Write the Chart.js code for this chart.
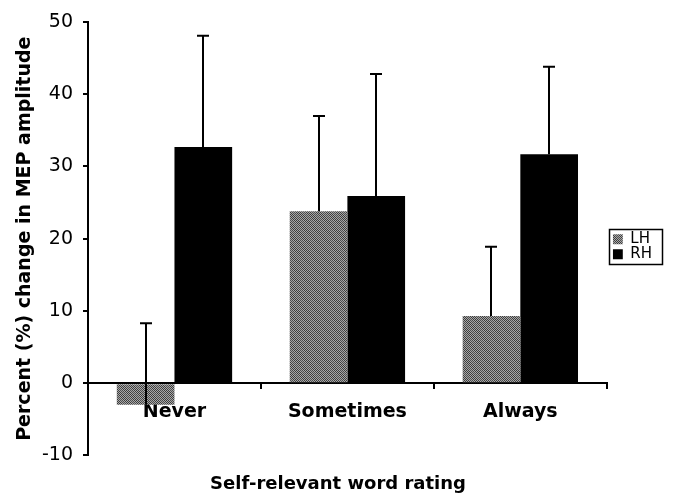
<!DOCTYPE html>
<html>
<head>
<meta charset="utf-8">
<script src="https://cdn.jsdelivr.net/npm/chart.js@4/dist/chart.umd.min.js"></script>
<style>
  html, body { margin: 0; padding: 0; background: #ffffff; }
  #wrap { width: 681px; height: 496px; position: relative; }
</style>
</head>
<body>
<div id="wrap"><canvas id="chart" width="681" height="496"></canvas></div>
<script>
// Word-rating categories and MEP amplitude changes (%) per hemisphere
const categories = ['Never', 'Sometimes', 'Always'];
const lhValues = [-3.0, 23.8, 9.3];
const rhValues = [32.7, 25.9, 31.7];
// Upward error bar lengths (same units as the values)
const lhErrors = [11.3, 13.2, 9.6];
const rhErrors = [15.4, 16.9, 12.1];
const yTicks = [-10, 0, 10, 20, 30, 40, 50];

const FONT = "'DejaVu Sans', Verdana, sans-serif";

// Fine gray checker fill with faint diagonal banding for the LH bars
function makeHatch() {
  const n = 10;
  const c = document.createElement('canvas');
  c.width = n; c.height = n;
  const g = c.getContext('2d');
  for (let y = 0; y < n; y++) {
    for (let x = 0; x < n; x++) {
      const band = ((x - y + n) % n) < 3;
      const dark = (x + y) % 2 === 0;
      let v;
      if (band) v = dark ? 0x50 : 0x9c;
      else v = dark ? 0x3a : 0xaa;
      g.fillStyle = 'rgb(' + v + ',' + v + ',' + v + ')';
      g.fillRect(x, y, 1, 1);
    }
  }
  return g.createPattern(c, 'repeat');
}
const hatch = makeHatch();

const errorBars = {
  id: 'errorBars',
  afterDatasetsDraw(chart) {
    const ctx = chart.ctx;
    const yScale = chart.scales.y;
    const errs = [lhErrors, rhErrors];
    ctx.save();
    ctx.strokeStyle = '#000';
    ctx.lineWidth = 2;
    chart.data.datasets.forEach((ds, i) => {
      const meta = chart.getDatasetMeta(i);
      meta.data.forEach((bar, j) => {
        const v = ds.data[j];
        const x = Math.round(bar.x);
        const y0 = yScale.getPixelForValue(v);
        const y1 = yScale.getPixelForValue(v + errs[i][j]);
        ctx.beginPath();
        ctx.moveTo(x, y0);
        ctx.lineTo(x, y1);
        ctx.moveTo(x - 6, y1);
        ctx.lineTo(x + 6, y1);
        ctx.stroke();
      });
    });
    ctx.restore();
  }
};

const legendFrame = {
  id: 'legendFrame',
  afterDraw(chart) {
    const boxes = chart.legend && chart.legend.legendHitBoxes;
    if (!boxes || !boxes.length) return;
    let l = Infinity, t = Infinity, r = -Infinity, b = -Infinity;
    boxes.forEach(h => {
      l = Math.min(l, h.left); t = Math.min(t, h.top);
      r = Math.max(r, h.left + h.width); b = Math.max(b, h.top + h.height);
    });
    const ctx = chart.ctx;
    ctx.save();
    ctx.strokeStyle = '#000';
    ctx.lineWidth = 1.5;
    const x0 = Math.round(l - 4), y0 = Math.round(t - 3);
    const x1 = Math.round(r + 10), y1 = Math.round(b + 2);
    ctx.strokeRect(x0 + 0.5, y0 + 0.5, x1 - x0, y1 - y0);
    ctx.restore();
  }
};

new Chart(document.getElementById('chart'), {
  type: 'bar',
  data: {
    labels: categories,
    datasets: [
      { label: 'LH', data: lhValues, backgroundColor: hatch, borderWidth: 0 },
      { label: 'RH', data: rhValues, backgroundColor: '#000000', borderWidth: 0 }
    ]
  },
  options: {
    responsive: false,
    animation: false,
    devicePixelRatio: 1,
    layout: { padding: { top: 22, left: 14, right: 19, bottom: 0 } },
    datasets: { bar: { categoryPercentage: 0.667, barPercentage: 1.0 } },
    scales: {
      x: {
        position: { y: 0 },
        grid: { display: true, drawOnChartArea: false, drawTicks: true, tickLength: 5, color: '#000', lineWidth: 2, offset: true },
        border: { display: true, color: '#000', width: 2 },
        ticks: { color: '#000', padding: 12, font: { family: FONT, size: 19, weight: 'bold' } }
      },
      y: {
        min: -10, max: 50,
        afterBuildTicks(scale) { scale.ticks = yTicks.map(v => ({ value: v })); },
        afterFit(scale) { scale.width = 74; },
        grid: { display: true, drawOnChartArea: false, drawTicks: true, tickLength: 5, color: '#000', lineWidth: 2 },
        border: { display: true, color: '#000', width: 2 },
        ticks: { color: '#000', padding: 10, font: { family: FONT, size: 19 } },
        title: {
          display: true,
          text: 'Percent (%) change in MEP amplitude',
          color: '#000',
          padding: { top: 0, bottom: 0 },
          font: { family: FONT, size: 19, weight: 'bold' }
        }
      },
      // narrow empty strip that keeps the legend clear of the plot edge
      gap: {
        type: 'linear',
        position: 'right',
        display: true,
        afterFit(scale) { scale.width = 6; },
        grid: { display: false },
        border: { display: false },
        ticks: { display: false }
      }
    },
    plugins: {
      legend: {
        position: 'right',
        align: 'center',
        fullSize: false,
        title: { display: true, text: ' ', padding: 2, font: { family: FONT, size: 10 } },
        labels: {
          color: '#000',
          boxWidth: 10, boxHeight: 10, padding: 0,
          font: { family: FONT, size: 15 }
        }
      },
      title: {
        display: true,
        position: 'bottom',
        text: 'Self-relevant word rating',
        color: '#000',
        padding: { top: 18, bottom: 1 },
        font: { family: FONT, size: 18, weight: 'bold' }
      },
      tooltip: { enabled: false }
    }
  },
  plugins: [errorBars, legendFrame]
});
</script>
</body>
</html>
